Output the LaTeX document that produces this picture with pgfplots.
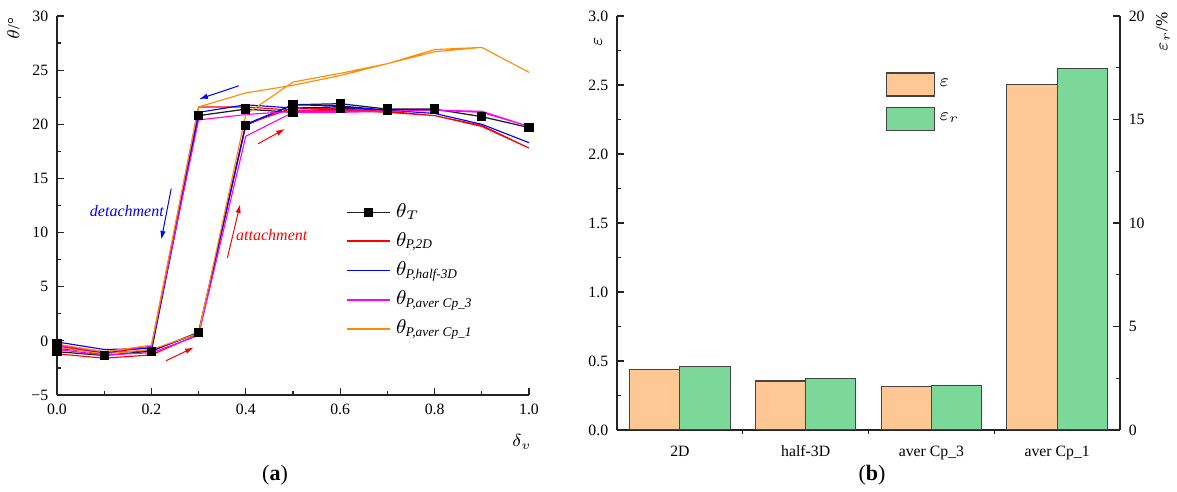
\documentclass[border=0pt]{standalone}
\usepackage{pgfplots}
\pgfplotsset{compat=1.18}
\usetikzlibrary{arrows.meta}
\usepackage{fontspec}
\setmainfont{Liberation Serif}
\usepackage{amsmath}
\definecolor{lnBlack}{RGB}{30,30,30}
\definecolor{lnRed}{RGB}{255,0,0}
\definecolor{lnBlue}{RGB}{0,0,255}
\definecolor{lnMag}{RGB}{255,0,255}
\definecolor{lnOrange}{RGB}{255,140,0}
\definecolor{barO}{RGB}{254,199,148}
\definecolor{barG}{RGB}{123,216,152}
\definecolor{axc}{RGB}{35,35,35}
\begin{document}
\begin{tikzpicture}
\path[use as bounding box] (0,0) rectangle (470.8pt,196.8pt);
\pgfplotsset{
  common/.style={
    scale only axis,
    tick align=inside,
    major tick length=2.8pt,
    minor tick length=1.5pt,
    every tick/.style={axc, line width=0.5pt},
    axis line style={axc, line width=0.55pt},
    tick label style={font=\fontsize{6.3}{7}\selectfont},
    /pgf/number format/assume math mode=true,
  }
}
% ---------------- (a) ----------------
\begin{axis}[common,
  at={(22.8pt,38.8pt)}, anchor=south west,
  width=188.8pt, height=151.6pt,
  xmin=0, xmax=1, ymin=-5, ymax=30,
  axis x line*=bottom, axis y line*=left,
  xtick={0,0.2,0.4,0.6,0.8,1}, xticklabels={0.0,0.2,0.4,0.6,0.8,1.0},
  minor x tick num=1,
  ytick={-5,0,5,10,15,20,25,30}, yticklabels={−5,0,5,10,15,20,25,30},
  minor y tick num=1,
  legend style={at={(0.612,0.52)}, anchor=north west, draw=none, fill=none,
    font=\fontsize{7.6}{8.5}\selectfont, row sep=0.6pt, inner sep=0pt},
  legend cell align=left,
]
\addplot[color=lnBlack, line width=0.5pt, mark=square*, mark size=1.6pt, mark options={fill=black,draw=black}] coordinates {
(0,-1.0) (0.1,-1.35) (0.2,-0.95) (0.3,0.8) (0.4,19.9) (0.5,21.8) (0.6,21.9) (0.7,21.4) (0.8,21.4) (0.9,20.7) (1.0,19.7)
(0.9,20.7) (0.8,21.4) (0.7,21.3) (0.6,21.5) (0.5,21.1) (0.4,21.4) (0.3,20.8) (0.2,-0.95) (0.1,-1.35) (0,-0.3)};
\addplot[lnRed, line width=0.45pt, forget plot] coordinates {
(0,-1.2) (0.1,-1.6) (0.2,-1.3) (0.3,0.6) (0.4,20.0) (0.5,21.5) (0.6,21.4) (0.7,21.2) (0.8,20.8) (0.9,19.8) (1.0,17.8)
(0.9,19.9) (0.8,20.8) (0.7,21.1) (0.6,21.3) (0.5,21.3) (0.4,21.6) (0.3,21.6) (0.2,-0.6) (0.1,-1.1) (0,-0.5)};
\addplot[lnBlue, line width=0.45pt, forget plot] coordinates {
(0,-0.7) (0.1,-1.1) (0.2,-0.9) (0.3,0.7) (0.4,20.0) (0.5,21.8) (0.6,21.7) (0.7,21.3) (0.8,21.0) (0.9,20.0) (1.0,18.3)
(0.9,20.0) (0.8,21.0) (0.7,21.3) (0.6,21.6) (0.5,21.5) (0.4,21.8) (0.3,21.1) (0.2,-0.7) (0.1,-0.8) (0,-0.1)};
\addplot[lnMag, line width=0.45pt, forget plot] coordinates {
(0,-0.8) (0.1,-1.3) (0.2,-1.1) (0.3,0.5) (0.4,18.9) (0.5,21.1) (0.6,21.1) (0.7,21.2) (0.8,21.3) (0.9,21.1) (1.0,19.8)
(0.9,21.2) (0.8,21.3) (0.7,21.2) (0.6,21.2) (0.5,21.2) (0.4,20.9) (0.3,20.4) (0.2,-0.5) (0.1,-1.0) (0,-0.4)};
\addplot[lnOrange, line width=0.45pt, forget plot] coordinates {
(0,-0.6) (0.1,-1.2) (0.2,-0.8) (0.3,0.7) (0.4,20.9) (0.5,23.9) (0.6,24.7) (0.7,25.6) (0.8,26.9) (0.9,27.1) (1.0,24.8)
(0.9,27.1) (0.8,26.7) (0.7,25.6) (0.6,24.5) (0.5,23.6) (0.4,22.9) (0.3,21.6) (0.2,-0.4) (0.1,-1.0) (0,-0.3)};
\addplot[color=lnBlack, line width=0.5pt, only marks, mark=square*, mark size=1.6pt, mark options={fill=black,draw=black}, forget plot] coordinates {
(0,-1.0) (0.1,-1.35) (0.2,-0.95) (0.3,0.8) (0.4,19.9) (0.5,21.8) (0.6,21.9) (0.7,21.4) (0.8,21.4) (0.9,20.7) (1.0,19.7)
(0.7,21.3) (0.6,21.5) (0.5,21.1) (0.4,21.4) (0.3,20.8) (0,-0.3)};
\addlegendentry{$\theta_{T}$}
\addlegendimage{lnRed, line width=0.8pt}
\addlegendentry{$\theta_{\textit{P,2D}}$}
\addlegendimage{lnBlue, line width=0.6pt}
\addlegendentry{$\theta_{\textit{P,half-3D}}$}
\addlegendimage{lnMag, line width=0.8pt}
\addlegendentry{$\theta_{\textit{P,aver Cp\_3}}$}
\addlegendimage{lnOrange, line width=0.6pt}
\addlegendentry{$\theta_{\textit{P,aver Cp\_1}}$}
% annotations
\draw[lnBlue, line width=0.4pt, -{Latex[length=3.5pt,width=2.2pt]}] (axis cs:0.385,23.55) -- (axis cs:0.301,22.33);
\draw[lnRed, line width=0.4pt, -{Latex[length=3.5pt,width=2.2pt]}] (axis cs:0.426,18.2) -- (axis cs:0.483,19.57);
\draw[lnBlue, line width=0.4pt, -{Latex[length=3.5pt,width=2.2pt]}] (axis cs:0.242,14.06) -- (axis cs:0.221,9.34);
\draw[lnRed, line width=0.4pt, -{Latex[length=3.5pt,width=2.2pt]}] (axis cs:0.361,7.65) -- (axis cs:0.388,12.62);
\draw[lnRed, line width=0.4pt, -{Latex[length=3.5pt,width=2.2pt]}] (axis cs:0.231,-1.83) -- (axis cs:0.290,-0.61);
\node[lnBlue, font=\fontsize{6.4}{7}\selectfont\itshape] at (axis cs:0.148,12.0) {detachment};
\node[lnRed, font=\fontsize{6.4}{7}\selectfont\itshape] at (axis cs:0.455,9.8) {attachment};
\end{axis}
% ---------------- (b) ----------------
\begin{axis}[common,
  at={(246.8pt,24.8pt)}, anchor=south west,
  width=201.2pt, height=165.6pt,
  xmin=-0.5, xmax=3.5, ymin=0, ymax=3,
  axis x line*=bottom, axis y line*=left,
  xtick={0,1,2,3}, xticklabels={2D,half-3D,aver Cp\_3,aver Cp\_1},
  major x tick style={draw=none},
  minor xtick={0.5,1.5,2.5},
  ytick={0,0.5,1,1.5,2,2.5,3}, yticklabels={0.0,0.5,1.0,1.5,2.0,2.5,3.0},
  minor y tick num=1,
  ybar, bar width=0.4,
  legend style={at={(0.533,0.865)}, anchor=north west, draw=none, fill=none,
    font=\fontsize{7}{8}\selectfont, row sep=4pt, inner sep=0pt},
  legend cell align=left,
  legend image code/.code={\draw[#1] (0pt,-4.6pt) rectangle (19.2pt,4.6pt);},
]
\addplot[fill=barO, draw=axc!85, line width=0.45pt, bar shift=-0.2] coordinates {(0,0.44) (1,0.355) (2,0.314) (3,2.505)};
\addlegendentry{$\varepsilon$}
\addlegendimage{fill=barG, draw=axc!85, line width=0.45pt}
\addlegendentry{$\varepsilon_r$}
\end{axis}
\begin{axis}[common,
  at={(246.8pt,24.8pt)}, anchor=south west,
  width=201.2pt, height=165.6pt,
  xmin=-0.5, xmax=3.5, ymin=0, ymax=20,
  axis x line=none, axis y line*=right,
  ytick={0,5,10,15,20}, minor y tick num=1,
  ybar, bar width=0.4,
]
\addplot[fill=barG, draw=axc!85, line width=0.45pt, bar shift=0.2] coordinates {(0,3.05) (1,2.48) (2,2.17) (3,17.45)};
\end{axis}
% labels
\node[rotate=90, font=\fontsize{6.8}{8}\selectfont] at (5.4pt,185.4pt) {$\theta$/°};
\node[font=\fontsize{7.2}{8}\selectfont] at (208.8pt,20pt) {$\delta_v$};
\node[font=\fontsize{8.8}{10}\selectfont] at (110pt,6.8pt) {(\textbf{a})};
\node[rotate=90, font=\fontsize{6.8}{8}\selectfont] at (239.2pt,180pt) {$\varepsilon$};
\node[rotate=90, font=\fontsize{6.8}{8}\selectfont] at (465.2pt,184pt) {$\varepsilon_r$/\%};
\node[font=\fontsize{8.8}{10}\selectfont] at (348.8pt,6.8pt) {(\textbf{b})};
\end{tikzpicture}
\end{document}
